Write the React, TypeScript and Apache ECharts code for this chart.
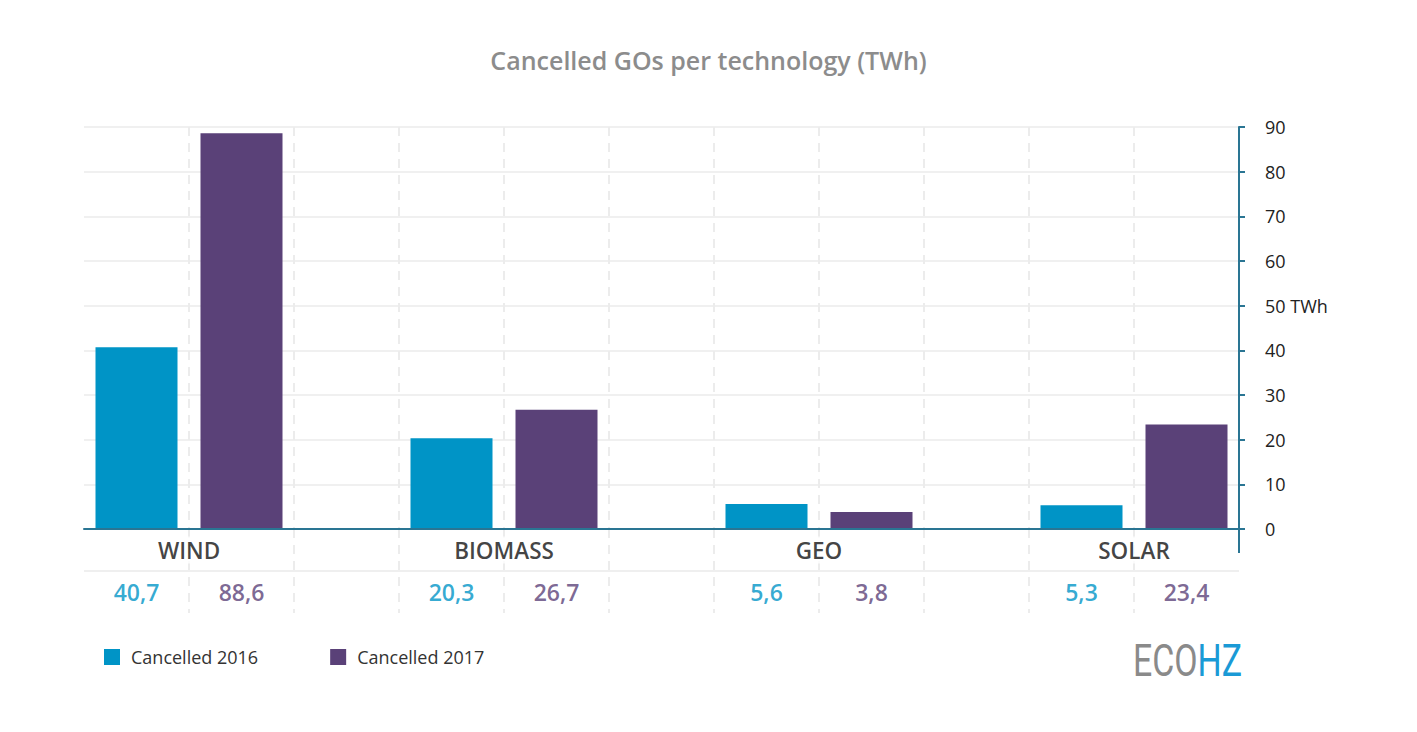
import React, { useEffect, useRef } from "react";
import * as echarts from "echarts";

const categories = ["WIND", "BIOMASS", "GEO", "SOLAR"];
const seriesNames = ["Cancelled 2016", "Cancelled 2017"];
const values2016 = [40.7, 20.3, 5.6, 5.3];
const values2017 = [88.6, 26.7, 3.8, 23.4];
const yMin = 0;
const yMax = 90;
const yInterval = 10;
const yUnitTick = 50;
const yUnit = "TWh";
const titleText = "Cancelled GOs per technology (TWh)";

const COLORS = ["#0094c6", "#5a4178"];
const FONT = "Open Sans";
const W = 1417;
const H = 732;
const GRID_LEFT = 84;
const GRID_RIGHT = 178;
const GRID_TOP = 127;
const AXIS_Y = 529;
const TABLE_BOTTOM = 613;
const AXIS_COLOR = "#2a7593";

export default function App() {
  const ref = useRef<HTMLDivElement>(null);
  useEffect(() => {
    document.body.style.margin = "0";
    if (!ref.current) return;
    const chart = echarts.init(ref.current, undefined, { renderer: "svg" });
    const n = categories.length;
    const slots = 3 * n - 1;
    const slotCats = Array.from({ length: slots }, (_, i) => String(i));
    const slotData = (vals: number[], off: number) => {
      const arr: (number | null)[] = Array(slots).fill(null);
      vals.forEach((v, i) => (arr[3 * i + off] = v));
      return arr;
    };
    const fmt = (v: number) => v.toFixed(1).replace(".", ",");
    const dashed = {
      show: true,
      showMinLine: false,
      showMaxLine: false,
      lineStyle: { color: "#ececec", width: 2, type: [9, 7] },
    };
    const valueLabelSeries = (vals: number[], off: number, idx: number) => ({
      type: "scatter",
      xAxisIndex: 1,
      yAxisIndex: 1,
      symbolSize: 1,
      itemStyle: { color: "rgba(0,0,0,0)" },
      silent: true,
      data: vals.map((v, i) => [3 * i + off + 0.5, 0.5, v]),
      label: {
        show: true,
        position: "inside",
        formatter: (p: any) => fmt(p.value[2]),
        color: COLORS[idx],
        fontFamily: FONT,
        fontSize: 23,
        fontWeight: 600,
      },
    });

    chart.setOption({
      animation: false,
      title: {
        text: titleText,
        left: "center",
        top: 42,
        textStyle: { fontFamily: FONT, fontSize: 25, fontWeight: 600, color: "#8c8c8c" },
      },
      legend: {
        data: seriesNames,
        left: 99,
        top: 643,
        icon: "rect",
        itemWidth: 16,
        itemHeight: 16,
        itemGap: 72,
        textStyle: { fontFamily: FONT, fontSize: 18, color: "#333", padding: [0, 0, 0, 6] },
        selectedMode: false,
      },
      grid: [
        { left: GRID_LEFT, right: GRID_RIGHT, top: GRID_TOP, bottom: H - AXIS_Y },
        { left: GRID_LEFT, right: GRID_RIGHT, top: AXIS_Y, bottom: H - TABLE_BOTTOM },
      ],
      xAxis: [
        {
          type: "category",
          gridIndex: 0,
          data: slotCats,
          boundaryGap: true,
          axisLine: { show: true, lineStyle: { color: AXIS_COLOR, width: 2 } },
          axisTick: { show: false },
          axisLabel: { show: false },
          splitLine: dashed,
          z: 5,
        },
        {
          type: "value",
          gridIndex: 1,
          min: 0,
          max: slots,
          interval: 1,
          axisLine: { show: false },
          axisTick: { show: false },
          axisLabel: { show: false },
          splitLine: dashed,
        },
      ],
      yAxis: [
        {
          type: "value",
          gridIndex: 0,
          position: "right",
          min: yMin,
          max: yMax,
          interval: yInterval,
          axisLine: { show: true, lineStyle: { color: AXIS_COLOR, width: 2 } },
          axisTick: { show: true, length: 6, lineStyle: { color: AXIS_COLOR, width: 2 } },
          axisLabel: {
            margin: 26,
            fontFamily: FONT,
            fontSize: 18,
            color: "#222",
            formatter: (v: number) => (v === yUnitTick ? `${v} ${yUnit}` : `${v}`),
          },
          splitLine: { show: true, lineStyle: { color: "#f0f0f0", width: 2 } },
        },
        {
          type: "value",
          gridIndex: 1,
          min: 0,
          max: 2,
          show: false,
        },
      ],
      series: [
        {
          name: seriesNames[0],
          type: "bar",
          xAxisIndex: 0,
          yAxisIndex: 0,
          data: slotData(values2016, 0),
          barWidth: 82,
          barGap: "-100%",
          itemStyle: { color: COLORS[0] },
          silent: true,
        },
        {
          name: seriesNames[1],
          type: "bar",
          xAxisIndex: 0,
          yAxisIndex: 0,
          data: slotData(values2017, 1),
          barWidth: 82,
          barGap: "-100%",
          itemStyle: { color: COLORS[1] },
          silent: true,
        },
        {
          type: "scatter",
          xAxisIndex: 1,
          yAxisIndex: 1,
          symbolSize: 1,
          itemStyle: { color: "rgba(0,0,0,0)" },
          silent: true,
          data: categories.map((c, i) => ({ name: c, value: [3 * i + 1, 1.5] })),
          label: {
            show: true,
            position: "inside",
            formatter: "{b}",
            color: "#111",
            fontFamily: FONT,
            fontSize: 22.5,
            fontWeight: 600,
            backgroundColor: "#fff",
            padding: [2, 4],
          },
          markLine: {
            silent: true,
            symbol: "none",
            label: { show: false },
            lineStyle: { color: "#efefef", width: 2, type: "solid" },
            data: [{ yAxis: 1 }],
          },
        },
        valueLabelSeries(values2016, 0, 0),
        valueLabelSeries(values2017, 1, 1),
      ],
      graphic: [
        {
          type: "line",
          shape: { x1: W - GRID_RIGHT, y1: AXIS_Y, x2: W - GRID_RIGHT, y2: 553 },
          style: { stroke: AXIS_COLOR, lineWidth: 2 },
          z: 10,
        },
        {
          type: "text",
          x: 1133,
          y: 661,
          scaleX: 0.77,
          style: {
            text: "{a|ECO}{b|HZ}",
            textVerticalAlign: "middle",
            verticalAlign: "middle",
            rich: {
              a: { fontFamily: "Roboto", fontSize: 44, fontWeight: 400, fill: "#8a8a8a" },
              b: { fontFamily: "Roboto", fontSize: 44, fontWeight: 400, fill: "#1a9ad6" },
            },
          },
        },
      ],
    });
    return () => chart.dispose();
  }, []);
  return <div ref={ref} style={{ width: W, height: H }} />;
}
